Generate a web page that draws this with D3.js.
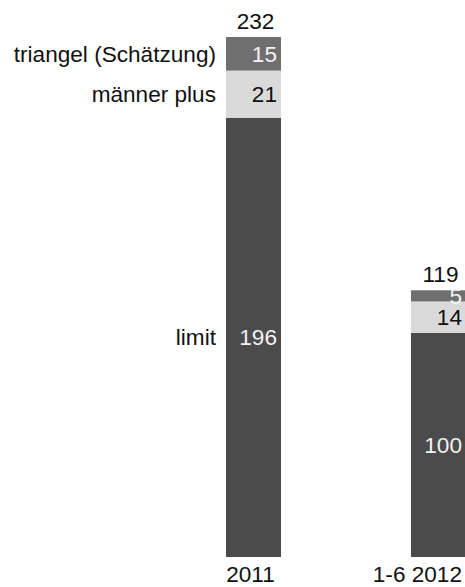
<!DOCTYPE html>
<html>
<head>
<meta charset="utf-8">
<script src="https://cdn.jsdelivr.net/npm/d3@7"></script>
<style>
	html, body { margin: 0; padding: 0; background: #fff; }
	svg { display: block; font-family: "Liberation Sans", Arial, sans-serif; }
</style>
</head>
<body>
<div id="chart"></div>
<script>
// data
const categories = ['2011', '1-6 2012'];
const seriesNames = ['limit', 'männer plus', 'triangel (Schätzung)'];
const limitValues = [196, 100];
const maennerPlusValues = [21, 14];
const triangelValues = [15, 5];

const W = 465, H = 587;
const colors = ['#4b4b4b', '#dadada', '#6f6f6f'];
const valueColors = ['#f2f2f2', '#111', '#f2f2f2'];

const rows = categories.map((c, i) => ({
	cat: c,
	'limit': limitValues[i],
	'männer plus': maennerPlusValues[i],
	'triangel (Schätzung)': triangelValues[i]
}));
const totals = rows.map(r => d3.sum(seriesNames, k => r[k]));

const stack = d3.stack().keys(seriesNames)(rows);

const x = d3.scaleBand().domain(categories).range([161, 531]).paddingInner(0.7027).paddingOuter(0.35135);
const y = d3.scaleLinear().domain([0, d3.max(totals)]).range([557, 37]);

const svg = d3.select('#chart').append('svg')
	.attr('width', W)
	.attr('height', H)
	.attr('viewBox', `0 0 ${W} ${H}`)
	.style('font-size', '22.6px');

// bars
const layer = svg.selectAll('g.layer')
	.data(stack)
	.enter()
	.append('g')
	.attr('class', 'layer')
	.attr('fill', (d, i) => colors[i]);

layer.selectAll('rect')
	.data(d => d)
	.enter()
	.append('rect')
	.attr('x', d => x(d.data.cat))
	.attr('y', d => y(d[1]))
	.attr('width', x.bandwidth())
	.attr('height', d => y(d[0]) - y(d[1]));

// segment values
stack.forEach((s, si) => {
	svg.append('g').selectAll('text')
		.data(s)
		.enter()
		.append('text')
		.attr('x', d => x(d.data.cat) + x.bandwidth() - 4)
		.attr('y', d => (y(d[0]) + y(d[1])) / 2)
		.attr('dy', '0.36em')
		.attr('text-anchor', 'end')
		.attr('fill', valueColors[si])
		.text(d => d[1] - d[0]);
});

// series names next to first bar
svg.append('g').selectAll('text')
	.data(stack)
	.enter()
	.append('text')
	.attr('x', x(categories[0]) - 10)
	.attr('y', d => (y(d[0][0]) + y(d[0][1])) / 2)
	.attr('dy', '0.36em')
	.attr('text-anchor', 'end')
	.attr('fill', '#111')
	.text(d => d.key);

// totals
svg.append('g').selectAll('text')
	.data(categories)
	.enter()
	.append('text')
	.attr('x', d => x(d) + x.bandwidth() / 2 + 2)
	.attr('y', (d, i) => y(totals[i]) - 8)
	.attr('text-anchor', 'middle')
	.attr('fill', '#111')
	.text((d, i) => totals[i]);

// category labels
svg.append('g').selectAll('text')
	.data(categories)
	.enter()
	.append('text')
	.attr('x', d => x(d) + x.bandwidth() / 2 - 3)
	.attr('y', y(0) + 25)
	.attr('text-anchor', 'middle')
	.attr('fill', '#111')
	.text(d => d)
	.each(function() {
		const b = this.getBBox();
		if (b.x + b.width > W - 3) {
			d3.select(this).attr('x', +d3.select(this).attr('x') - (b.x + b.width - (W - 3)));
		}
	});
</script>
</body>
</html>
